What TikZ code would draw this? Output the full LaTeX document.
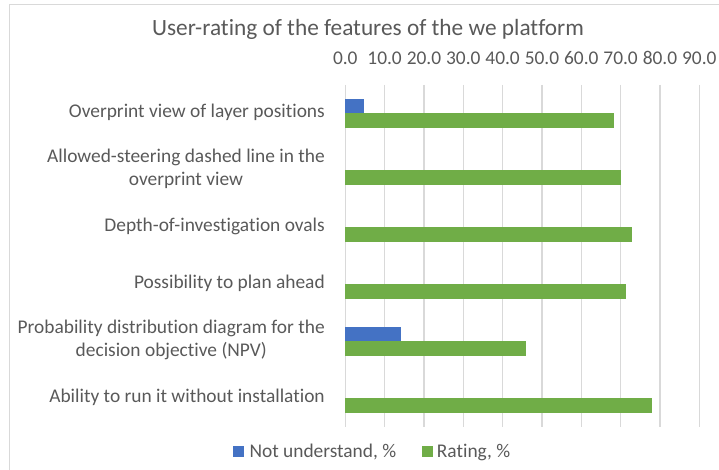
\documentclass[tikz,border=0pt]{standalone}
\usepackage{fontspec}
\setmainfont{Carlito}[Ligatures=NoCommon]
\definecolor{txt}{HTML}{595959}
\definecolor{nublue}{HTML}{4472C4}
\definecolor{rgreen}{HTML}{70AD47}
\definecolor{gridc}{HTML}{D9D9D9}
\begin{document}
\begin{tikzpicture}[x=1bp,y=-1bp,
  lbl/.style={text=txt,inner sep=0pt,font=\fontsize{19.4bp}{23.7bp}\selectfont},
  ticklbl/.style={lbl,anchor=base},
  catlbl/.style={lbl,anchor=base east},
  gridline/.style={draw=gridc,line width=1.1bp},
  bluebar/.style={fill=nublue},
  greenbar/.style={fill=rgreen},
  legsq/.style={inner sep=0pt,minimum size=11bp,anchor=south west}]
\useasboundingbox (0,0) rectangle (719,470);
% chart frame
\draw[gridc,line width=1bp] (9.5,470) -- (9.5,4.5) -- (719,4.5);
% title
\node[text=txt,inner sep=0pt,font=\fontsize{23.3bp}{28bp}\selectfont,anchor=base] (title) at (368,35.5) {User-rating of the features of the we platform};
% grid and tick labels
\foreach \v [count=\i from 0] in {0.0,10.0,20.0,30.0,40.0,50.0,60.0,70.0,80.0,90.0} {
  \pgfmathsetmacro\xx{345.3+\i*39.33}
  \draw[gridline] (\xx,85) -- (\xx,426.7);
  \node[ticklbl] (tick\i) at (\xx,65) {\v};
}
% bars: x = 345.3 + v*3.933 ; row centre c
\def\xo{345.3}
\def\sc{3.933}
\def\bh{14.3}
% row 1, c = 113.48
\fill[bluebar]  (\xo,{113.48-\bh}) rectangle ({\xo+4.8*\sc},113.48);
\fill[greenbar] (\xo,113.48) rectangle ({\xo+68.2*\sc},{113.48+\bh});
% row 2, c = 170.43
\fill[greenbar] (\xo,170.43) rectangle ({\xo+70.0*\sc},{170.43+\bh});
% row 3, c = 227.38
\fill[greenbar] (\xo,227.38) rectangle ({\xo+72.95*\sc},{227.38+\bh});
% row 4, c = 284.33
\fill[greenbar] (\xo,284.33) rectangle ({\xo+71.4*\sc},{284.33+\bh});
% row 5, c = 341.28
\fill[bluebar]  (\xo,{341.28-\bh}) rectangle ({\xo+14.2*\sc},341.28);
\fill[greenbar] (\xo,341.28) rectangle ({\xo+46.0*\sc},{341.28+\bh});
% row 6, c = 398.23
\fill[greenbar] (\xo,398.23) rectangle ({\xo+78.0*\sc},{398.23+\bh});
% category labels
\node[catlbl] (c1) at (325,117.5) {Overprint view of layer positions};
\node[catlbl] (c2a) at (325,162.9) {Allowed-steering dashed line in the};
\node[lbl,anchor=base] (c2b) at ([yshift=-23bp]c2a.base) {overprint view};
\node[catlbl] (c3) at (325,231.4) {Depth-of-investigation ovals};
\node[catlbl] (c4) at (325,288.3) {Possibility to plan ahead};
\node[catlbl] (c5a) at (325,333.8) {Probability distribution diagram for the};
\node[lbl,anchor=base] (c5b) at ([yshift=-23bp]c5a.base) {decision objective (NPV)};
\node[catlbl] (c6) at (325,402.2) {Ability to run it without installation};
% legend
\node[legsq,fill=nublue] (lb) at (233,457.5) {};
\node[lbl,anchor=base west] (lbt) at (249.3,457) {Not understand, \%};
\node[legsq,fill=rgreen] (lg) at (421.5,457.5) {};
\node[lbl,anchor=base west] (lgt) at (436.7,457) {Rating, \%};
\end{tikzpicture}
\end{document}
